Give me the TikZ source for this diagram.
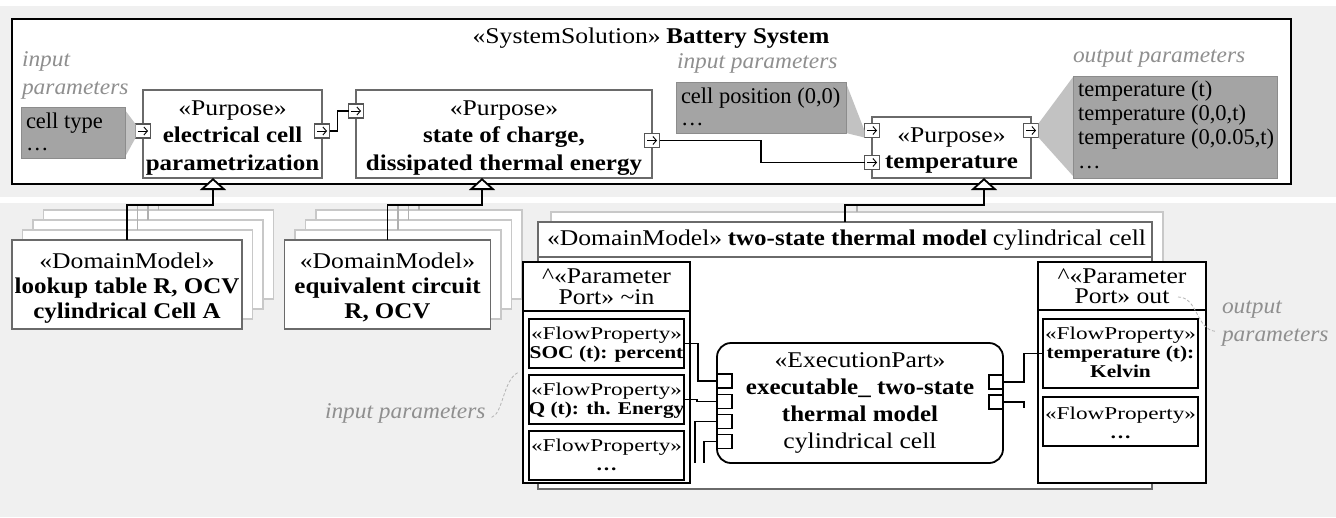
\documentclass[tikz,border=0pt]{standalone}
\usepackage{fontspec}
\setmainfont{Liberation Serif}
\usepackage{graphicx}
\usetikzlibrary{arrows.meta}
\definecolor{bandc}{HTML}{F0F0F0}
\definecolor{notec}{HTML}{A4A4A4}
\definecolor{noteb}{HTML}{8C8C8C}
\definecolor{callc}{HTML}{C2C2C2}
\definecolor{bordc}{HTML}{6A6A6A}
\definecolor{shadc}{HTML}{C8C8C8}
\definecolor{glc}{HTML}{B0B0B0}
\definecolor{labc}{HTML}{8F8F8F}
\definecolor{annc}{HTML}{B4B4B4}
\definecolor{portc}{HTML}{555555}
\newcommand{\rg}[1]{\scalebox{1.14}[1]{#1}}
\newcommand{\bd}[1]{\scalebox{1.11}[1]{\bfseries #1}}
\newcommand{\frg}[1]{\scalebox{1.29}[1]{#1}}
\newcommand{\fbd}[1]{\scalebox{1.19}[1]{\bfseries #1}}
\newcommand{\itl}[1]{\scalebox{1.04}[1]{\itshape #1}}
\newcommand{\tc}[1]{\begin{tabular}[t]{@{}c@{}}#1\end{tabular}}
\newcommand{\tlf}[1]{\begin{tabular}[t]{@{}l@{}}#1\end{tabular}}
\begin{document}
\begin{tikzpicture}[x=1pt,y=-1pt,
 every node/.style={inner sep=0pt,outer sep=0pt},
 box/.style={draw=bordc,line width=1.6pt,fill=white},
 sbox/.style={draw=shadc,line width=1.6pt,fill=white},
 kbox/.style={draw=black,line width=1.8pt,fill=white},
 note/.style={draw=noteb,line width=0.8pt,fill=notec},
 port/.style={draw=portc,line width=1.2pt,fill=white,minimum width=15pt,minimum height=14pt},
 xport/.style={draw=black,line width=1.4pt,fill=white,minimum width=15pt,minimum height=14pt},
 conn/.style={draw=black,line width=1.5pt},
 gline/.style={draw=glc,line width=1.6pt},
 gen/.style={draw=black,line width=1.8pt,-{Triangle[open,fill=white,length=12pt,width=26pt]}},
 parr/.style={draw=black,line width=0.9pt,-{Straight Barb[length=3.5pt,width=8pt]}},
 anno/.style={draw=annc,line width=0.8pt,dash pattern=on 3pt off 2pt},
 tx/.style={anchor=base,font=\fontsize{22.5}{#1}\selectfont},
 txl/.style={anchor=base west,font=\fontsize{22.5}{#1}\selectfont},
 lab/.style={anchor=base west,text=labc,font=\fontsize{22.5}{#1}\selectfont},
 ftx/.style={anchor=base,font=\fontsize{18}{19}\selectfont},
]
\useasboundingbox (0,0) rectangle (1336,517);
\fill[white] (0,0) rectangle (1336,517);
\fill[bandc] (0,6) rectangle (1336,197);
\fill[bandc] (0,203) rectangle (1336,517);

% ---------- system solution ----------
\node[draw=black,line width=2pt,fill=white,minimum width=1279pt,minimum height=165pt] (sys) at (651.5,101.5) {};
\node[tx=27] (sysT) at (651,43) {\tc{\rg{«SystemSolution»} \bd{Battery System}}};

% notes and labels
\node[lab=28] (lab1) at (22,66) {\tlf{\itl{input}\\\itl{parameters}}};
\node[lab=28] (lab2) at (677,68) {\tlf{\itl{input parameters}}};
\node[lab=28] (lab3) at (1073,62) {\tlf{\itl{output parameters}}};

\node[note,minimum width=104pt,minimum height=51pt] (n1) at (73,132.5) {};
\node[note,minimum width=170pt,minimum height=51pt] (n2) at (761,107.5) {};
\node[note,minimum width=204pt,minimum height=102pt] (n3) at (1175,127) {};

% purposes
\node[box,minimum width=179pt,minimum height=88pt] (p1) at (232.5,134) {};
\node[box,minimum width=296pt,minimum height=88pt] (p2) at (504,134) {};
\node[box,minimum width=159pt,minimum height=61pt] (p3) at (951.5,147.5) {};
\node[tx=27.5] (p1T) at (232.5,115) {\tc{\rg{«Purpose»}\\\bd{electrical cell}\\\bd{parametrization}}};
\node[tx=27.5] (p2T) at (504,115) {\tc{\rg{«Purpose»}\\\bd{state of charge,}\\\bd{dissipated thermal energy}}};
\node[tx=26] (p3T) at (951.5,142) {\tc{\rg{«Purpose»}\\\bd{temperature}}};

\node[port] (p1l) at (143,131) {};
\node[port] (p1r) at (322,131) {};
\node[port] (p2l) at (356,111) {};
\node[port] (p2r) at (652,140.5) {};
\node[port] (p3a) at (872,130.5) {};
\node[port] (p3b) at (872,162.5) {};
\node[port] (p3r) at (1031,130.5) {};

% callouts
\fill[callc] ([yshift=-3pt]n1.north east) -- (p1l.north west) -- (p1l.south west) -- ([yshift=1pt]n1.south east) -- cycle;
\fill[callc] ([yshift=-1pt]n2.north east) -- ([yshift=-7pt]p3a.north west) -- (p3a.south west) -- (n2.south east) -- cycle;
\fill[callc] (p3r.north east) -- ([yshift=-1pt]n3.north west) -- ([yshift=2pt]n3.south west) -- (p3r.south east) -- cycle;
\draw[noteb,line width=0.8pt] (n1.north east) -- (n1.south east) (n2.north east) -- (n2.south east) (n3.north west) -- (n3.south west);

\node[txl=22] (n1T) at (26,128) {\tlf{cell type\\…}};
\node[txl=22] (n2T) at (681,103) {\tlf{cell position (0,0)\\…}};
\node[txl=24] (n3T) at (1078,96) {\tlf{temperature (t)\\temperature (0,0,t)\\temperature (0,0.05,t)\\…}};

\foreach \p in {p1l,p1r,p2l,p2r,p3a,p3b,p3r}
  \draw[parr] ([xshift=-5pt]\p.center) -- ([xshift=5pt]\p.center);

\draw[conn] (p1r.east) -- ++(8,0) |- (p2l.west);
\draw[conn] (p2r.east) -- ++(101.5,0) |- (p3b.west);

% ---------- domain models ----------
\coordinate (jA) at (213,205);
\coordinate (jB) at (482,205);
\coordinate (jC) at (984,205);

\foreach \k in {3,2,1} {
  \node[sbox,minimum width=230pt,minimum height=89pt] (dmA\k) at ({127+10.5*\k},{284.5-10*\k}) {};
  \draw[gline] (dmA\k.north) -- (dmA\k.north |- jA);
  \node[sbox,minimum width=206pt,minimum height=89pt] (dmB\k) at ({387.5+10.5*\k},{284.5-10*\k}) {};
  \draw[gline] (dmB\k.north) -- (dmB\k.north |- jB);
}
\node[box,minimum width=230pt,minimum height=89pt] (dmA0) at (127,284.5) {};
\node[box,minimum width=206pt,minimum height=89pt] (dmB0) at (387.5,284.5) {};
\node[tx=25] (dmAT) at (127,268) {\tc{\rg{«DomainModel»}\\\bd{lookup table R, OCV}\\\bd{cylindrical Cell A}}};
\node[tx=25] (dmBT) at (387.5,268) {\tc{\rg{«DomainModel»}\\\bd{equivalent circuit}\\\bd{R, OCV}}};

\node[sbox,minimum width=612pt,minimum height=267pt] (dmC1) at (857,345.5) {};
\draw[gline] (dmC1.north) -- (dmC1.north |- jC);
\node[box,minimum width=614pt,minimum height=267pt] (dmC0) at (845,355.5) {};
\node[box,minimum width=614pt,minimum height=35pt] (dmCt) at (845,239.5) {};
\node[txl=27] (dmCT) at (547,245) {\tlf{\rg{«DomainModel»} \bd{two-state thermal model} \rg{cylindrical cell}}};

\draw[gen] (dmA0.north) |- (jA) -- (jA |- p1.south);
\draw[gen] (dmB0.north) |- (jB) -- (jB |- p2.south);
\draw[gen] (dmC0.north) |- (jC) -- (jC |- p3.south);

% parameter ports
\node[kbox,minimum width=167pt,minimum height=221pt] (inp) at (606.5,372.5) {};
\node[kbox,minimum width=168pt,minimum height=221pt] (outp) at (1122,372.5) {};
\draw[black,line width=1.8pt] (inp.west |- 0,311) -- (inp.east |- 0,311);
\draw[black,line width=1.8pt] (outp.west |- 0,310) -- (outp.east |- 0,310);
\node[tx=20.5] (inpT) at (606.5,283) {\tc{\rg{\textasciicircum«Parameter}\\\rg{Port» \textasciitilde in}}};
\node[tx=20.5] (outpT) at (1122,283) {\tc{\rg{\textasciicircum«Parameter}\\\rg{Port» out}}};

\node[kbox,minimum width=155pt,minimum height=49pt] (fi1) at (606.5,343.5) {};
\node[kbox,minimum width=155pt,minimum height=49pt] (fi2) at (606.5,399.5) {};
\node[kbox,minimum width=155pt,minimum height=49pt] (fi3) at (606.5,455.5) {};
\node[kbox,minimum width=155pt,minimum height=69pt] (fo1) at (1120.5,353.5) {};
\node[kbox,minimum width=155pt,minimum height=49pt] (fo2) at (1120.5,421.5) {};
\node[ftx] (fi1T) at (606.5,339) {\tc{\frg{«FlowProperty»}\\\fbd{SOC (t): percent}}};
\node[ftx] (fi2T) at (606.5,395) {\tc{\frg{«FlowProperty»}\\\fbd{Q (t): th. Energy}}};
\node[ftx] (fi3T) at (606.5,451) {\tc{\frg{«FlowProperty»}\\\fbd{…}}};
\node[ftx] (fo1T) at (1120.5,339) {\tc{\frg{«FlowProperty»}\\\fbd{temperature (t):}\\\fbd{Kelvin}}};
\node[ftx] (fo2T) at (1120.5,419) {\tc{\frg{«FlowProperty»}\\\fbd{…}}};

% execution part
\node[kbox,rounded corners=14pt,minimum width=286pt,minimum height=120pt] (ex) at (860,403) {};
\node[tx=27] (exT) at (860,367) {\tc{\rg{«ExecutionPart»}\\\bd{executable\_ two-state}\\\bd{thermal model}\\\rg{cylindrical cell}}};
\node[xport] (exl1) at (724.5,381) {};
\node[xport] (exl2) at (724.5,401.5) {};
\node[xport] (exl3) at (724.5,421.5) {};
\node[xport] (exl4) at (724.5,441.5) {};
\node[xport,minimum width=14pt] (exr1) at (996,382) {};
\node[xport,minimum width=14pt] (exr2) at (996,402) {};
\coordinate (e3) at (695,463);
\coordinate (e4) at (704,463);
\coordinate (e6) at (1024,408);
\draw[conn] (fi1.east) -- ++(14,0) |- (exl1.west);
\draw[conn] (fi2.east) -- ++(13,0) |- (exl2.west);
\draw[conn] (exl3.west) -| (e3);
\draw[conn] (exl4.west) -| (e4);
\draw[conn] (exr1.east) -- ++(21,0) |- (fo1.west);
\draw[conn] (exr2.east) -| (e6);

% annotations
\node[lab=28] (lab4) at (325,418) {\tlf{\itl{input parameters}}};
\node[lab=28] (lab5) at (1222,313) {\tlf{\itl{output}\\\itl{parameters}}};
\draw[anno] ([xshift=6pt,yshift=-5pt]lab4.east) .. controls (503,414) and (503,380) .. ([xshift=-5pt]inp.west);
\coordinate (aoS) at (1178,297);
\draw[anno] (aoS) .. controls (1198,297) and (1196,330) .. ([xshift=-6pt,yshift=-10pt]lab5.west);
\end{tikzpicture}
\end{document}
